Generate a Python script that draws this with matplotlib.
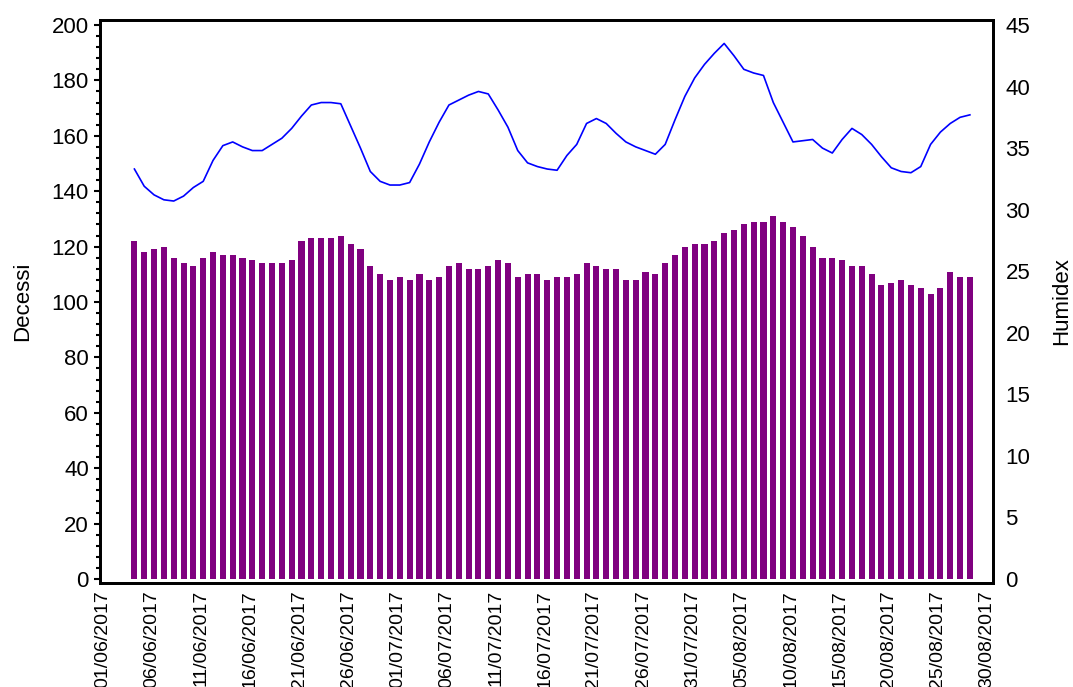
import matplotlib
matplotlib.use("Agg")
import matplotlib.pyplot as plt
import matplotlib.dates as mdates
from matplotlib.ticker import MultipleLocator
import numpy as np
import pandas as pd

plt.rcParams['font.family'] = ['Liberation Sans', 'DejaVu Sans']

# daily data, 04/06/2017 .. 28/08/2017
dates = pd.date_range('2017-06-04', periods=86, freq='D')

decessi = [122, 118, 119, 120, 116, 114, 113, 116, 118, 117,
           117, 116, 115, 114, 114, 114, 115, 122, 123, 123,
           123, 124, 121, 119, 113, 110, 108, 109, 108, 110,
           108, 109, 113, 114, 112, 112, 113, 115, 114, 109,
           110, 110, 108, 109, 109, 110, 114, 113, 112, 112,
           108, 108, 111, 110, 114, 117, 120, 121, 121, 122,
           125, 126, 128, 129, 129, 131, 129, 127, 124, 120,
           116, 116, 115, 113, 113, 110, 106, 107, 108, 106,
           105, 103, 105, 111, 109, 109]

humidex = [33.3, 31.9, 31.2, 30.8, 30.7, 31.1, 31.8, 32.3, 34.0, 35.2,
           35.5, 35.1, 34.8, 34.8, 35.3, 35.8, 36.6, 37.6, 38.5, 38.7,
           38.7, 38.6, 36.8, 35.0, 33.1, 32.3, 32.0, 32.0, 32.2, 33.7,
           35.5, 37.1, 38.5, 38.9, 39.3, 39.6, 39.4, 38.1, 36.7, 34.8,
           33.8, 33.5, 33.3, 33.2, 34.4, 35.3, 37.0, 37.4, 37.0, 36.2,
           35.5, 35.1, 34.8, 34.5, 35.3, 37.3, 39.2, 40.7, 41.8, 42.7,
           43.5, 42.5, 41.4, 41.1, 40.9, 38.7, 37.1, 35.5, 35.6, 35.7,
           35.0, 34.6, 35.7, 36.6, 36.1, 35.3, 34.3, 33.4, 33.1, 33.0,
           33.5, 35.3, 36.3, 37.0, 37.5, 37.7]

fig = plt.figure(figsize=(10.73, 6.87), dpi=100)
ax = fig.add_axes([100/1073, 1 - 583/687, 893/1073, 563/687])

x = mdates.date2num(dates) + 0.25
ax.bar(x, decessi, width=0.62, color='#800080', zorder=2)

ax.set_ylim(-1.45, 201.8)
ax.yaxis.set_major_locator(MultipleLocator(20))
ax.yaxis.set_minor_locator(MultipleLocator(4))
ax.tick_params(axis='y', which='major', length=4, width=1.5, labelsize=16, pad=4)
ax.tick_params(axis='y', which='minor', length=3, width=1.5)

start = pd.Timestamp('2017-06-01')
end = pd.Timestamp('2017-08-30')
ax.set_xlim(mdates.date2num(start) - 0.25, mdates.date2num(end) + 0.6)
ax.set_xticks(mdates.date2num(pd.date_range(start, end, freq='5D')))
ax.xaxis.set_major_formatter(mdates.DateFormatter('%d/%m/%Y'))
ax.tick_params(axis='x', length=0, labelsize=14, pad=5, labelrotation=90)

for s in ax.spines.values():
    s.set_linewidth(2.0)

ax.set_ylabel('Decessi', fontsize=16, va='center')
ax.yaxis.set_label_coords(-0.087, 0.5)

ax2 = ax.twinx()
ax2.plot(x, humidex, color='#0000FF', linewidth=1.2, zorder=3)
ax2.set_ylim(-1.45 * 45 / 200, 201.8 * 45 / 200)
ax2.yaxis.set_major_locator(MultipleLocator(5))
ax2.tick_params(axis='y', length=0, labelsize=16, pad=9)
for s in ax2.spines.values():
    s.set_linewidth(2.0)
ax2.set_ylabel('Humidex', fontsize=16, va='center', rotation=90)
ax2.yaxis.set_label_coords(1.0773, 0.5)

fig.savefig('out.png', dpi=100)
